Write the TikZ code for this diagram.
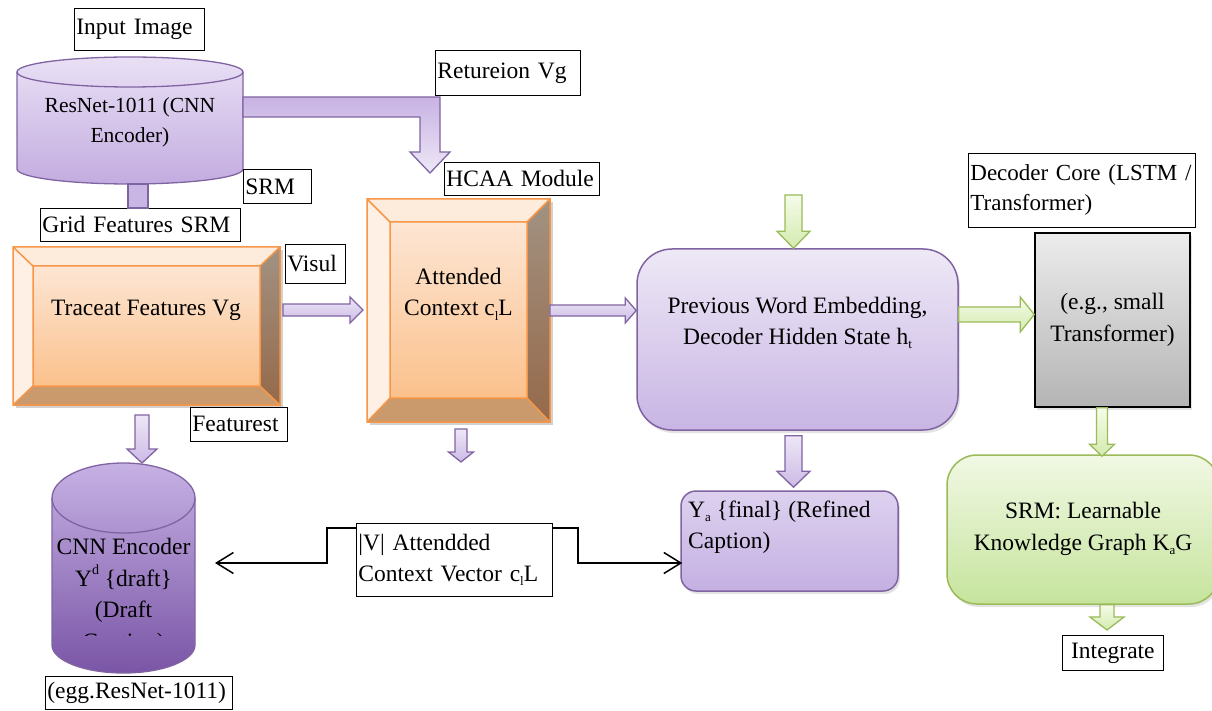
\documentclass[tikz,border=0pt]{standalone}
\usepackage{fontspec}
\setmainfont{Liberation Serif}
\usetikzlibrary{calc,shadows,arrows.meta}

\definecolor{pline}{HTML}{8064A2}
\definecolor{gline}{HTML}{9BBB59}
\definecolor{oline}{HTML}{F79646}
\definecolor{pA}{HTML}{EDE7F6}
\definecolor{pB}{HTML}{CCBAE6}
\definecolor{gA}{HTML}{F5FBEA}
\definecolor{gB}{HTML}{D3EBAE}
\definecolor{bvTop}{HTML}{FDEBDC}
\definecolor{bvLeft}{HTML}{FEF0E5}
\definecolor{bvRt}{HTML}{A29282}
\definecolor{bvRb}{HTML}{95694A}
\definecolor{bvBot}{HTML}{CB9A6C}
\definecolor{bvFt}{HTML}{FDE6D4}
\definecolor{bvFb}{HTML}{FBC18C}

% small lowered / raised indices
\newcommand{\lsub}[1]{\raisebox{-0.18em}{\fontsize{13}{13}\selectfont #1}}
\newcommand{\lsup}[1]{\raisebox{0.5em}{\fontsize{14}{14}\selectfont #1}}

% bevelled box: outer corners (#1,#2)-(#3,#4), inner corners (#5,#6)-(#7,#8)
\newcommand{\bevelbox}[8]{%
  \fill[black,opacity=.18] (#1+3,#2+3) rectangle (#3+3,#4+3);
  \fill[bvTop] (#1,#2) -- (#3,#2) -- (#7,#6) -- (#5,#6) -- cycle;
  \fill[bvLeft] (#1,#2) -- (#5,#6) -- (#5,#8) -- (#1,#4) -- cycle;
  \shade[top color=bvRt,bottom color=bvRb] (#3,#2) -- (#3,#4) -- (#7,#8) -- (#7,#6) -- cycle;
  \fill[bvBot] (#5,#8) -- (#7,#8) -- (#3,#4) -- (#1,#4) -- cycle;
  \shade[top color=bvFt,bottom color=bvFb] (#5,#6) rectangle (#7,#8);
  \draw[oline,line width=1.5pt,line join=miter]
    (#1,#2) rectangle (#3,#4) (#5,#6) rectangle (#7,#8)
    (#1,#2) -- (#5,#6) (#3,#2) -- (#7,#6) (#1,#4) -- (#5,#8) (#3,#4) -- (#7,#8);
}

% cylinder: centre x, radius, top centre y, top y radius, bottom centre y, bottom y radius, style
\newcommand{\cylshape}[7]{%
  \path[#7] (#1-#2,#3) -- (#1-#2,#5)
    arc[start angle=180,end angle=360,x radius=#2pt,y radius=#6pt] -- (#1+#2,#3)
    arc[start angle=0,end angle=180,x radius=#2pt,y radius=#4pt] -- cycle;
  \draw[pline,line width=1.3pt] (#1-#2,#3)
    arc[start angle=180,end angle=360,x radius=#2pt,y radius=#4pt];
}

% block arrow pointing down: style, top, tip, shaft half width, head half width, head length
\newcommand{\vblk}[6]{%
  \path[#1] let \p1=#2, \p2=#3 in
    (\x1-#4,\y1) -- (\x1+#4,\y1) -- (\x1+#4,\y2+#6) -- (\x1+#5,\y2+#6) -- (\x1,\y2)
    -- (\x1-#5,\y2+#6) -- (\x1-#4,\y2+#6) -- cycle;
}
% block arrow pointing right: style, start, tip, shaft half width, head half width, head length
\newcommand{\hblk}[6]{%
  \path[#1] let \p1=#2, \p2=#3 in
    (\x1,\y1+#4) -- (\x2-#6,\y1+#4) -- (\x2-#6,\y1+#5) -- (\x2,\y1) -- (\x2-#6,\y1-#5)
    -- (\x2-#6,\y1-#4) -- (\x1,\y1-#4) -- cycle;
}

\begin{document}
\begin{tikzpicture}[x=1pt,y=-1pt,
  txt/.style={font=\fontsize{23.5}{31.5}\selectfont,align=center,inner sep=0pt},
  lbl/.style={draw=black,line width=0.8pt,fill=white,font=\fontsize{23.5}{31.5}\selectfont,
    align=left,inner xsep=2pt,inner ysep=0pt,anchor=north west},
  hold/.style={draw=none,inner sep=0pt,outer sep=0pt},
  shd/.style={drop shadow={opacity=.22,shadow xshift=2pt,shadow yshift=-3pt}},
  parrow/.style={draw=pline,line width=1.3pt,line join=miter,top color=pA,bottom color=pB},
  garrow/.style={draw=gline,line width=1.3pt,line join=miter,top color=gA,bottom color=gB},
  conn/.style={draw=black,line width=1.5pt,
    {Straight Barb[length=17pt,width=21pt]}-{Straight Barb[length=17pt,width=21pt]}},
]
\useasboundingbox (0,0) rectangle (1212,711);
\clip (0,0) rectangle (1212,711);
\fill[white] (0,0) rectangle (1212,711);

% ---- encoder cylinder ----
\cylshape{130}{113}{72}{15}{169}{15}{draw=pline,line width=1.3pt,top color={rgb,255:red,233;green,224;blue,245},bottom color={rgb,255:red,195;green,172;blue,224}}
\node[hold,minimum width=226pt,minimum height=127pt] (resnet) at (130,120.5) {};
\node[txt,font=\fontsize{21.5}{30}\selectfont] (resnettxt) at (130,122) {ResNet-1011 (CNN\\Encoder)};

% ---- draft cylinder ----
\cylshape{123.5}{71.5}{498}{35}{645}{28}{draw=pline,line width=1.3pt,top color={rgb,255:red,198;green,177;blue,228},bottom color={rgb,255:red,122;green,85;blue,166}}
\node[hold,minimum width=143pt,minimum height=210pt] (cnnd) at (123.5,568) {};
\begin{scope}
  \clip (40,520) rectangle (210,635);
  \node[txt] (cnndtxt) at (123.5,596.5) {CNN Encoder\\Y\lsup{d} \{draft\}\\(Draft\\Caption)};
\end{scope}

% ---- bevelled boxes ----
\bevelbox{13}{247}{280}{405}{33}{266}{260}{386}
\node[hold,minimum width=267pt,minimum height=158pt] (trace) at (146.5,326) {};
\node[txt] (tracetxt) at (146,310) {Traceat Features Vg};

\bevelbox{367}{199}{550}{422}{390}{222}{527}{398}
\node[hold,minimum width=183pt,minimum height=223pt] (att) at (458.5,310.5) {};
\node[txt] (atttxt) at (458.5,294) {Attended\\Context c\lsub{l}L};

% ---- decoder side ----
\node[shd,draw=pline,line width=1.5pt,rounded corners=35pt,top color={rgb,255:red,238;green,232;blue,246},
  bottom color={rgb,255:red,200;green,181;blue,228},minimum width=321pt,minimum height=181pt] (prev) at (797.5,339.5) {};
\node[txt] (prevtxt) at (797.5,323) {Previous Word Embedding,\\Decoder Hidden State h\lsub{t}};

\node[shd,draw=pline,line width=1.5pt,rounded corners=15pt,top color={rgb,255:red,221;green,209;blue,239},
  bottom color={rgb,255:red,196;green,176;blue,226},minimum width=217pt,minimum height=100pt] (final) at (789.5,541) {};
\node[txt,align=left,anchor=west] (finaltxt) at (688,527) {Y\lsub{a} \{final\} (Refined\\Caption)};

\node[shd,draw=black,line width=1.5pt,top color={rgb,255:red,236;green,236;blue,236},
  bottom color={rgb,255:red,180;green,180;blue,180},minimum width=155pt,minimum height=174pt] (gray) at (1112.5,320) {};
\node[txt] (graytxt) at (1112.5,320) {(e.g., small\\Transformer)};

\node[shd,draw=gline,line width=1.5pt,rounded corners=30pt,top color={rgb,255:red,241;green,248;blue,228},
  bottom color={rgb,255:red,198;green,228;blue,157},minimum width=272pt,minimum height=149pt] (srm) at (1083,529.5) {};
\node[txt] (srmtxt) at (1083,529) {SRM: Learnable\\Knowledge Graph K\lsub{a}G};

% ---- labels ----
\node[lbl,text width=126pt,minimum height=42pt] (inimg) at (74,8) {Input Image};
\node[lbl,text width=64pt,minimum height=34pt] (srmlbl) at (243,169) {SRM};
\node[lbl,text width=196pt,minimum height=33pt] (gridlbl) at (40,208) {Grid Features SRM};
\node[lbl,text width=56pt,minimum height=39pt] (visul) at (285,244) {Visul};
\node[lbl,text width=93pt,minimum height=34pt] (featlbl) at (190,407) {Featurest};
\node[lbl,text width=183pt,minimum height=33pt] (egglbl) at (45,676) {(egg.ResNet-1011)};
\node[lbl,text width=141pt,minimum height=45pt] (retlbl) at (435,50) {Retureion Vg};
\node[lbl,text width=151pt,minimum height=33pt] (hcaalbl) at (444,162) {HCAA Module};
\node[lbl,text width=223pt,minimum height=74pt,font=\fontsize{23}{30}\selectfont] (declbl) at (968,153)
  {\mbox{Decoder Core (LSTM /}\\Transformer)};
\node[lbl,text width=97pt,minimum height=35pt,align=center] (intlbl) at (1062,635) {Integrate};

% ---- stub between encoder and grid label ----
\draw[pline,line width=1.3pt,fill={rgb,255:red,201;green,182;blue,228}]
  ([xshift=-2pt]resnet.south) rectangle ([xshift=18pt]resnet.south |- gridlbl.north);

% ---- bent arrow: encoder to HCAA ----
\path[draw=pline,line width=1.3pt,line join=miter,top color={rgb,255:red,199;green,178;blue,226},bottom color={rgb,255:red,238;green,232;blue,247}]
  let \p1=([yshift=13.5pt]resnet.east), \p2=([xshift=-28.5pt,yshift=26pt]att.north) in
  (\x1,\y1+10pt) -- (\x2+10pt,\y1+10pt) -- (\x2+10pt,\y2+21pt) -- (\x2+20pt,\y2+21pt) -- (\x2,\y2)
  -- (\x2-20pt,\y2+21pt) -- (\x2-10pt,\y2+21pt) -- (\x2-10pt,\y1-10pt) -- (\x1,\y1-10pt) -- cycle;

% ---- block arrows ----
\coordinate (attout) at (461,462);
\coordinate (gin) at (793.5,195);
\vblk{parrow}{([xshift=-4.5pt,yshift=-10pt]trace.south)}{(cnnd.north)}{7pt}{15pt}{14pt}
\vblk{parrow}{([xshift=2.5pt,yshift=-7pt]att.south)}{(attout)}{6pt}{12.5pt}{10pt}
\vblk{garrow}{(gin)}{(prev.north)}{8.5pt}{16.5pt}{17pt}
\vblk{parrow}{([xshift=-4pt,yshift=-5pt]prev.south)}{([yshift=3pt]final.north)}{8.5pt}{16.5pt}{16pt}
\vblk{garrow}{([xshift=-10.5pt]gray.south)}{([yshift=-2pt]srm.north)}{5.5pt}{12.5pt}{12pt}
\vblk{garrow}{([xshift=24pt]srm.south)}{([yshift=5pt]intlbl.north)}{7pt}{17pt}{13pt}

\hblk{parrow}{([xshift=3pt,yshift=16pt]trace.east)}{([xshift=-4pt]att.west)}{6pt}{13pt}{13pt}
\hblk{parrow}{(att.east)}{(prev.west)}{5.5pt}{12.5pt}{11pt}
\hblk{garrow}{([yshift=25pt]prev.east)}{(gray.west)}{7.5pt}{17.5pt}{14pt}

% ---- context vector connector ----
\draw[conn] ([xshift=20pt,yshift=5pt]cnnd.east) -- (327,563) -- (327,528) -- (578,528) -- (578,563)
  -- ([xshift=2pt,yshift=-22pt]final.west);
\node[lbl,text width=192pt,minimum height=73pt] (veclbl) at (356,523)
  {|V| Attendded\\Context Vector c\lsub{l}L};
\end{tikzpicture}
\end{document}
